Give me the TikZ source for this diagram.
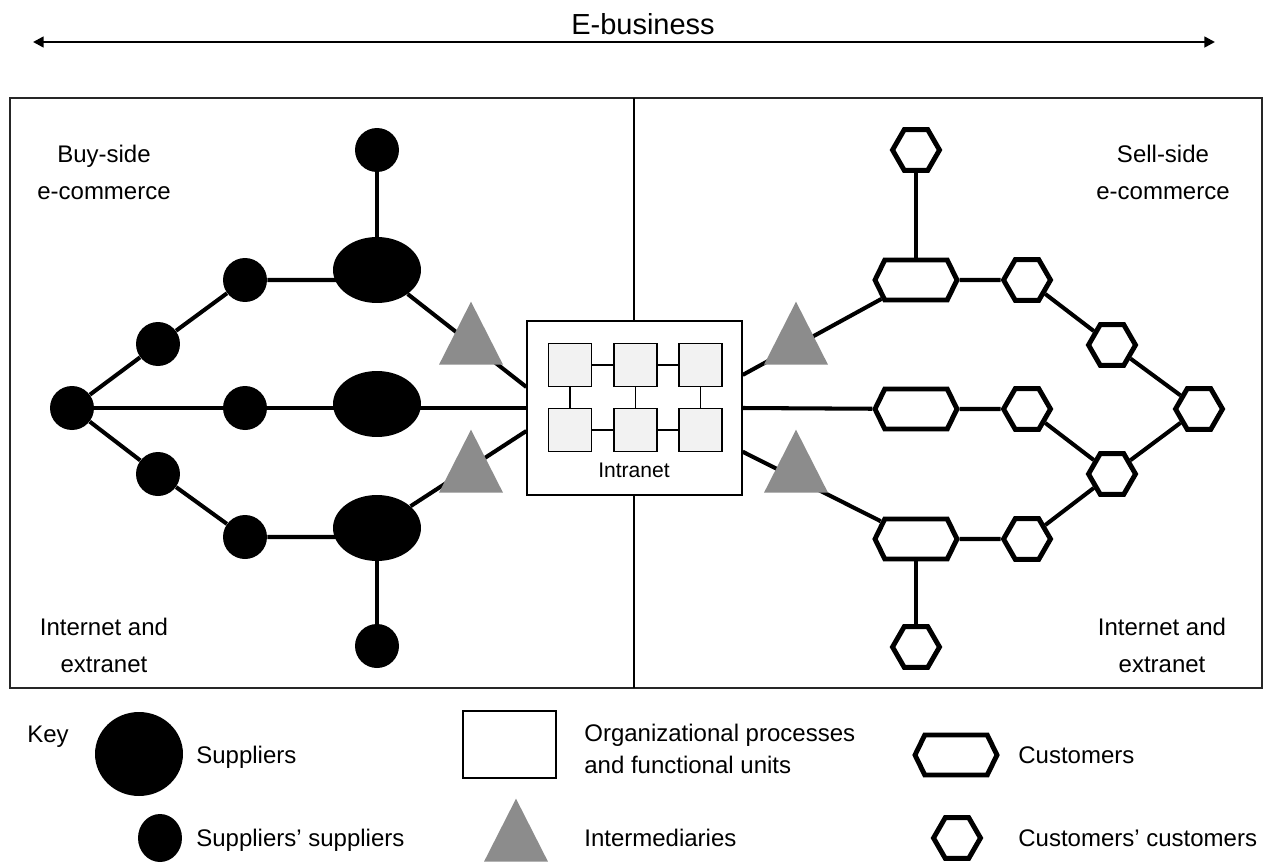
\documentclass[tikz,border=0pt]{standalone}
\usepackage{fontspec}
\setmainfont{Liberation Sans}
\usetikzlibrary{shapes.geometric,shapes.symbols,arrows.meta,positioning}
\tikzset{
  link/.style={line width=2.3pt},
  supp/.style={ellipse, fill=black, inner sep=0pt, minimum width=1.76cm, minimum height=1.32cm},
  ssupp/.style={circle, fill=black, inner sep=0pt, minimum size=0.88cm},
  cust/.style={signal, signal to=east and west, signal pointer angle=128, draw, line width=2.8pt,
    fill=white, inner sep=0pt, minimum width=1.64cm, minimum height=0.8cm},
  ccust/.style={regular polygon, regular polygon sides=6, draw, line width=2.8pt, fill=white,
    inner sep=0pt, minimum size=0.94cm},
  inter/.style={isosceles triangle, isosceles triangle stretches, shape border rotate=90,
    fill=black!45, inner sep=0pt, minimum width=1.28cm, minimum height=1.26cm, anchor=south},
  unit/.style={draw, fill=gray!10, line width=0.8pt, inner sep=0pt, minimum size=0.86cm},
  txt/.style={font=\fontsize{13.66}{21}\selectfont, align=center, inner sep=0pt},
}
\begin{document}
\begin{tikzpicture}[x=0.02cm, y=-0.02cm]
  \useasboundingbox (0,0) rectangle (1264,862);
  % e-business span
  \node[txt, font=\fontsize{16.5}{20}\selectfont] (ebiz) at (643,24) {E-business};
  \coordinate (ebL) at (33,42);
  \coordinate (ebR) at (1215,42);
  \draw[line width=1.4pt, {Triangle[length=6pt,width=6pt]}-{Triangle[length=6pt,width=6pt]}] (ebL) -- (ebR);
  % frame and divider
  \draw[line width=0.9pt, black!85] (10,98) rectangle (1262,688);
  \coordinate (divT) at (634,98);
  \coordinate (divB) at (634,688);
  \draw[line width=0.6pt] (divT) -- (divB);
  % intranet
  \node[draw, fill=white, line width=0.8pt, inner sep=0pt,
        minimum width=4.3cm, minimum height=3.48cm] (intra) at (634.5,408) {};
  \foreach \i/\x/\y in {1/570/365, 2/635.5/365, 3/700.5/365, 4/570/430, 5/635.5/430, 6/700.5/430}
    \node[unit] (u\i) at (\x,\y) {};
  \foreach \a/\b in {1/2, 2/3, 4/5, 5/6, 1/4, 2/5, 3/6}
    \draw[line width=0.6pt] (u\a) -- (u\b);
  \node[txt, font=\fontsize{12}{14}\selectfont] (intraLbl) at (634,470) {Intranet};
  % buy side
  \node[ssupp] (ss0) at (72,408) {};
  \node[ssupp] (ss1) at (158,344) {};
  \node[ssupp] (ss2) at (245,280) {};
  \node[ssupp] (ss3) at (245,408) {};
  \node[ssupp] (ss4) at (158,474) {};
  \node[ssupp] (ss5) at (245,537) {};
  \node[ssupp] (ssTop) at (377,150) {};
  \node[ssupp] (ssBot) at (377,646) {};
  \node[supp] (s1) at (377,270) {};
  \node[supp] (s2) at (377,404) {};
  \node[supp] (s3) at (377,528) {};
  \draw[link] (ss0) -- (ss1) -- (ss2) -- (ss2 -| s1);
  \draw[link] (s1) -- (intra.169.5);
  \draw[link] (s1) -- (ssTop);
  \draw[link] (ss0) -- (ss3) -- (ss3 -| s2) -- (intra.west);
  \draw[link] (ss0) -- (ss4) -- (ss5) -- (ss5 -| s3);
  \draw[link] (s3) -- (intra.192.5);
  \draw[link] (s3) -- (ssBot);
  % sell side
  \node[cust] (c1) at (916,280) {};
  \node[cust] (c2) at (916,409) {};
  \node[cust] (c3) at (916,539) {};
  \node[ccust] (ccTop) at (916,150) {};
  \node[ccust] (cc1) at (1027,280) {};
  \node[ccust] (cc2) at (1112,345) {};
  \node[ccust] (cc3) at (1199,409) {};
  \node[ccust] (cc4) at (1027,409) {};
  \node[ccust] (cc5) at (1112,474) {};
  \node[ccust] (cc6) at (1027,539) {};
  \node[ccust] (ccBot) at (916,647) {};
  \draw[link] (intra.17.5) -- (c1) -- (cc1) -- (cc2) -- (cc3);
  \draw[link] (c1) -- (ccTop);
  \draw[link] (intra.east) -- (c2) -- (cc4) -- (cc5) -- (cc3);
  \draw[link] (intra.-22) -- (c3) -- (cc6) -- (cc5);
  \draw[link] (c3) -- (ccBot);
  % intermediaries
  \node[inter] (tL1) at (471,365) {};
  \node[inter] (tL2) at (471,493) {};
  \node[inter] (tR1) at (796,365) {};
  \node[inter] (tR2) at (796,493) {};
  % area labels
  \node[txt] (buyLbl) at (104,172) {Buy-side\\e-commerce};
  \node[txt] (sellLbl) at (1163,172) {Sell-side\\e-commerce};
  \node[txt] (netL) at (104,645) {Internet and\\extranet};
  \node[txt] (netR) at (1162,645) {Internet and\\extranet};
  % key
  \node[txt, anchor=west] (keyLbl) at (27,737) {Key};
  \node[supp, minimum height=1.68cm] (keySupp) at (139,754) {};
  \node[txt, anchor=west] (keySuppLbl) at (196,757) {Suppliers};
  \node[ssupp, ellipse, minimum height=0.96cm] (keySS) at (160,838) {};
  \node[txt, anchor=west] (keySSLbl) at (196,840) {Suppliers' suppliers};
  \node[draw, fill=white, line width=0.9pt, inner sep=0pt,
        minimum width=1.86cm, minimum height=1.34cm] (keyUnit) at (509.5,744.5) {};
  \node[txt, anchor=west, align=left, font=\fontsize{13.66}{18.2}\selectfont] (keyUnitLbl) at (584,749)
    {Organizational processes\\and functional units};
  \node[inter] (keyInter) at (516,862) {};
  \node[txt, anchor=west] (keyInterLbl) at (584,838) {Intermediaries};
  \node[cust] (keyCust) at (956,755) {};
  \node[txt, anchor=west] (keyCustLbl) at (1018,755) {Customers};
  \node[ccust] (keyCC) at (957,838) {};
  \node[txt, anchor=west] (keyCCLbl) at (1018,838) {Customers' customers};
\end{tikzpicture}
\end{document}
